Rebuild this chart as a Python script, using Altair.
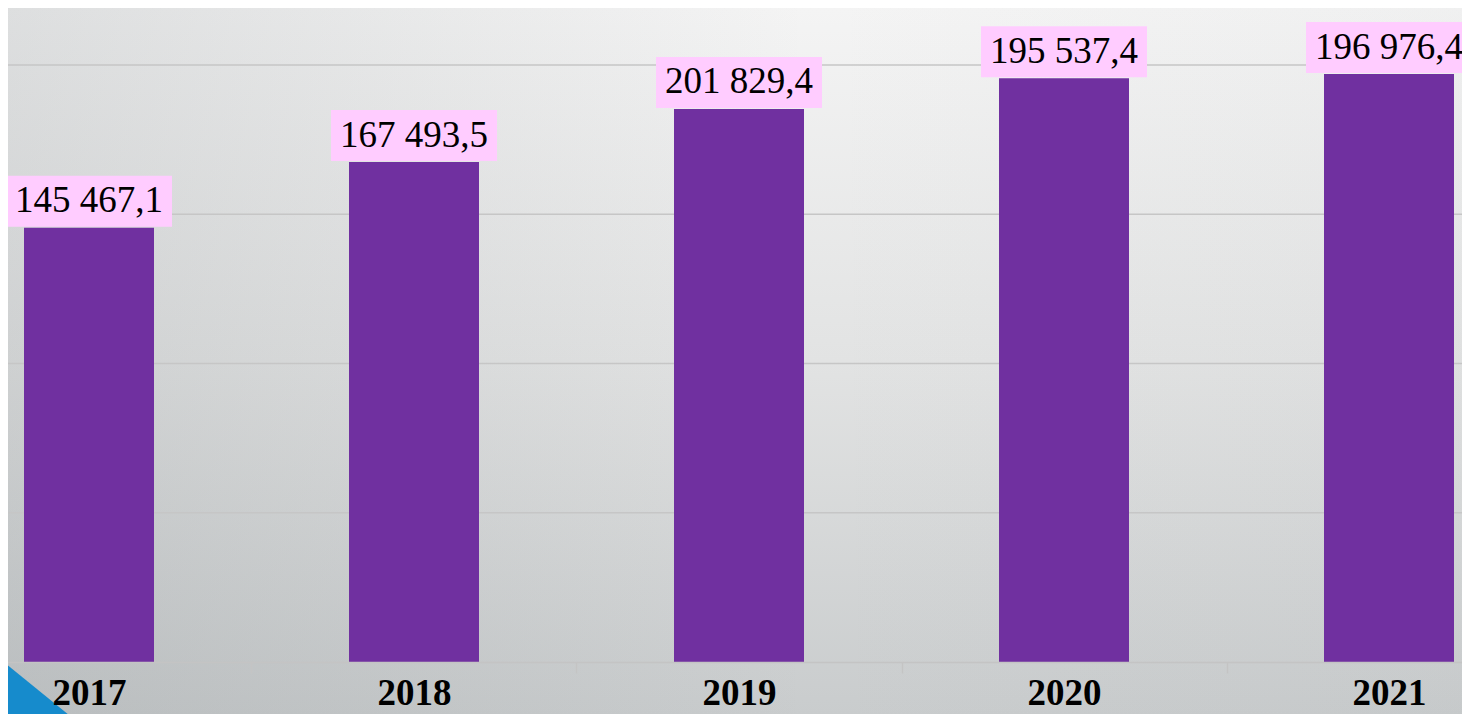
import altair as alt
import pandas as pd

# ---- data ----
years = ["2017", "2018", "2019", "2020", "2021"]
bar_values = [145467.1, 167493.5, 185260.0, 195537.4, 196976.4]   # bar heights as drawn
value_labels = ["145 467,1", "167 493,5", "201 829,4", "195 537,4", "196 976,4"]
grid_values = [50000, 100000, 150000, 200000]

# ---- layout constants ----
W = 1454
H = 654
PAD_BOTTOM = 52
PX_PER_50K = 149.25
K = 50000 / PX_PER_50K          # data units per pixel
YMAX = H * K
STEP = 325

BOX_W = 166
BOX_H = 51
GAP = 1

df = pd.DataFrame({"year": years, "value": bar_values, "label": value_labels})
df["box_lo"] = df["value"] + GAP * K
df["box_hi"] = df["box_lo"] + BOX_H * K
df["box_mid"] = (df["box_lo"] + df["box_hi"]) / 2

grid_df = pd.DataFrame({"g": grid_values})
dummy = pd.DataFrame({"k": [0]})

yscale = alt.Scale(domain=[0, YMAX], nice=False, zero=True)
xscale = alt.Scale(domain=years, range=[-81.5, -81.5 + 5 * STEP],
                   paddingInner=0.6, paddingOuter=0.3, round=False)

xaxis = alt.Axis(
    title=None, labelFont="Liberation Serif", labelFontSize=37, labelFontWeight="bold",
    labelColor="black", labelAngle=0, labelBaseline="alphabetic", labelPadding=31,
    tickOffset=-STEP / 2, labelOffset=STEP / 2,
    tickSize=11, tickColor="#c4c4c4", tickWidth=1.5,
    domainColor="#c4c4c4", domainWidth=1.5, grid=False, zindex=1,
)

vgrad = alt.LinearGradient(
    gradient="linear", x1=0, y1=0, x2=0, y2=1,
    stops=[
        alt.GradientStop(offset=0, color="#f4f4f4"),
        alt.GradientStop(offset=0.5, color="#e2e3e3"),
        alt.GradientStop(offset=1, color="#c9cccd"),
    ],
)
hgrad = alt.LinearGradient(
    gradient="linear", x1=0, y1=0, x2=1, y2=0,
    stops=[
        alt.GradientStop(offset=0, color="rgba(110,118,122,0.17)"),
        alt.GradientStop(offset=0.55, color="rgba(110,118,122,0)"),
        alt.GradientStop(offset=1, color="rgba(110,118,122,0.03)"),
    ],
)

bg = alt.Chart(dummy).mark_rect(fill=vgrad, strokeWidth=0).encode(
    x=alt.value(0), x2=alt.value(W), y=alt.value(0), y2=alt.value(H + PAD_BOTTOM)
)
bgh = alt.Chart(dummy).mark_rect(fill=hgrad, strokeWidth=0).encode(
    x=alt.value(0), x2=alt.value(W), y=alt.value(0), y2=alt.value(H + PAD_BOTTOM)
)

grid = alt.Chart(grid_df).mark_rule(color="#c6c6c6", strokeWidth=1.5).encode(
    y=alt.Y("g:Q", scale=yscale, axis=None), x=alt.value(0), x2=alt.value(W)
)

tri = alt.Chart(dummy).mark_point(
    shape="M-1,-0.8125 L1,0.8125 L-1,0.8125 Z", size=6400, filled=True,
    color="#168bcc", opacity=1, strokeWidth=0,
).encode(x=alt.value(32), y=alt.value(683.5))

xenc = alt.X("year:N", scale=xscale, axis=xaxis, title=None)

bars = alt.Chart(df).mark_bar(color="#7030a0").encode(
    x=xenc,
    y=alt.Y("value:Q", scale=yscale, axis=None),
)

boxes = alt.Chart(df).mark_bar(color="#ffccff", width=BOX_W).encode(
    x=xenc,
    y=alt.Y("box_lo:Q", scale=yscale, axis=None),
    y2="box_hi:Q",
)

texts = alt.Chart(df).mark_text(
    font="Liberation Serif", fontSize=37, color="black", baseline="middle", align="center"
).encode(
    x=xenc,
    y=alt.Y("box_mid:Q", scale=yscale, axis=None),
    text="label:N",
)

chart = alt.layer(bg, bgh, grid, tri, bars, boxes, texts).properties(
    width=W, height=H,
    autosize=alt.AutoSizeParams(type="none"),
    padding={"left": 0, "top": 0, "right": 0, "bottom": PAD_BOTTOM},
    background="#dcdedf",
).configure_view(strokeWidth=0)

chart.save("out.html", embed_options={"renderer": "svg", "actions": False})
